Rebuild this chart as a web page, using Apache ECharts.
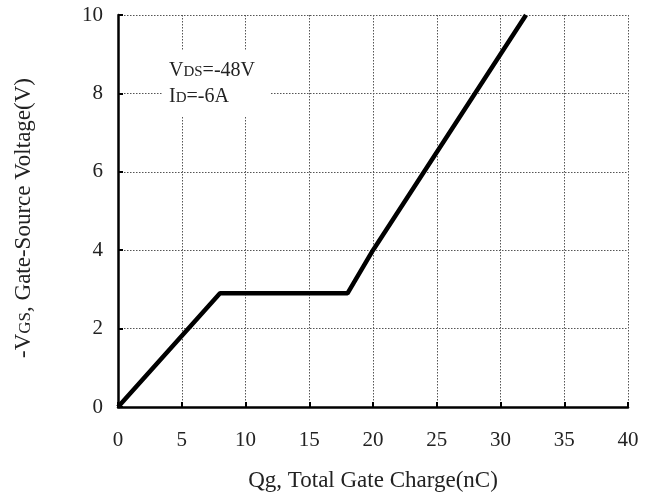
<!DOCTYPE html>
<html><head><meta charset="utf-8">
<script src="https://cdn.jsdelivr.net/npm/echarts@6/dist/echarts.min.js"></script>
<style>html,body{margin:0;padding:0;background:#fff}#c{width:650px;height:497px}</style>
</head><body><div id="c"></div>
<script>
var qg = [0, 8, 18, 20, 32];
var vgs = [0, 2.9, 2.9, 4.0, 10];
var xTicks = [0, 5, 10, 15, 20, 25, 30, 35, 40];
var yTicks = [0, 2, 4, 6, 8, 10];

var font = '"Liberation Serif", "Times New Roman", serif';
var txt = '#222';
var chart = echarts.init(document.getElementById('c'));
chart.setOption({
  animation: false,
  backgroundColor: '#fff',
  graphic: [
    {type: 'rect', z: 100, shape: {x: 163, y: 50, width: 107, height: 67}, style: {fill: '#fff'}},
    {type: 'text', z: 101, left: 169, top: 61,
      style: {
        text: '{a|V}{b|DS}{a|=-48V}\n{a|I}{b|D}{a|=-6A}',
        rich: {
          a: {fontFamily: font, fontSize: 20, fill: txt, lineHeight: 26, verticalAlign: 'bottom'},
          b: {fontFamily: font, fontSize: 15, fill: txt, lineHeight: 26, verticalAlign: 'bottom', padding: [0, 0, 1, 0]}
        }
      }
    }
  ],
  grid: {left: 118, right: 22, top: 15, bottom: 86, show: false},
  xAxis: {
    type: 'value', min: 0, max: 40, interval: 5,
    name: 'Qg, Total Gate Charge(nC)', nameLocation: 'middle', nameGap: 62,
    nameTextStyle: {fontFamily: font, fontSize: 23, color: txt},
    axisLine: {show: true, onZero: false, lineStyle: {color: '#000', width: 2.5}},
    axisTick: {show: true, inside: true, length: 5, lineStyle: {color: '#000', width: 2}},
    axisLabel: {fontFamily: font, fontSize: 21, color: txt, margin: 23,
      formatter: function(v){ return xTicks.indexOf(v) >= 0 ? String(v) : ''; }},
    splitLine: {show: true, showMinLine: false, lineStyle: {color: '#555', type: [1.5, 1.5], width: 1}}
  },
  yAxis: {
    type: 'value', min: 0, max: 10, interval: 2,
    name: '{a|-V}{b|GS}{a|, Gate-Source Voltage(V)}', nameLocation: 'middle', nameGap: 83,
    nameTextStyle: {
      padding: [0, 14, 0, 0],
      rich: {
        a: {fontFamily: font, fontSize: 23, color: txt, lineHeight: 28, verticalAlign: 'bottom'},
        b: {fontFamily: font, fontSize: 17, color: txt, lineHeight: 28, verticalAlign: 'bottom', padding: [0, 0, 1, 0]}
      }
    },
    axisLine: {show: true, onZero: false, lineStyle: {color: '#000', width: 2.5}},
    axisTick: {show: true, inside: true, length: 5, lineStyle: {color: '#000', width: 2}},
    axisLabel: {fontFamily: font, fontSize: 21, color: txt, margin: 15,
      formatter: function(v){ return yTicks.indexOf(v) >= 0 ? String(v) : ''; }},
    splitLine: {show: true, showMinLine: false, lineStyle: {color: '#555', type: [1.5, 1.5], width: 1}}
  },
  series: [{
    type: 'line',
    data: qg.map(function(x, i){ return [x, vgs[i]]; }),
    showSymbol: false,
    lineStyle: {color: '#000', width: 4.5},
    z: 5
  }]
});
</script></body></html>
